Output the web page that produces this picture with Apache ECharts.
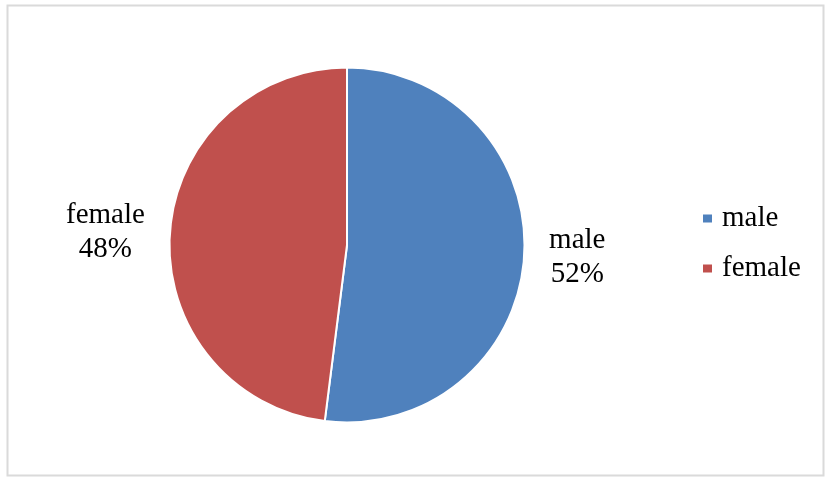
<!DOCTYPE html>
<html><head><meta charset="utf-8">
<script src="https://cdn.jsdelivr.net/npm/echarts@6/dist/echarts.min.js"></script>
<style>html,body{margin:0;padding:0;background:#fff}#c{width:825px;height:480px}</style>
</head><body><div id="c"></div>
<script>
const categories = ['male', 'female'];
const values = [52, 48];
const colors = ['#4F81BD', '#C0504D'];

const chart = echarts.init(document.getElementById('c'));
chart.setOption({
  backgroundColor: '#fff',
  animation: false,
  graphic: [{
    type: 'rect', shape: {x: 7.5, y: 5.5, width: 816, height: 470},
    style: {fill: 'none', stroke: '#dadada', lineWidth: 2}
  }],
  legend: {
    orient: 'vertical', left: 696, top: 199,
    itemWidth: 11, itemHeight: 10, itemGap: 21, icon: 'rect',
    textStyle: {fontFamily: 'Liberation Serif', fontSize: 29, color: '#000', padding: [0, 0, 0, 4]},
    data: categories
  },
  series: [{
    type: 'pie', center: [347, 245], radius: 177.5, startAngle: 90, clockwise: true,
    data: categories.map((c, i) => ({name: c, value: values[i], itemStyle: {color: colors[i]}})),
    itemStyle: {borderColor: '#fff', borderWidth: 2},
    label: {
      position: 'outside', formatter: '{a|{b}}\n{a|{d}%}',
      rich: {a: {fontFamily: 'Liberation Serif', fontSize: 29, lineHeight: 34, color: '#000', align: 'center'}}
    },
    labelLine: {show: false, length: 20, length2: 0},
    emphasis: {disabled: true}
  }]
});
</script></body></html>
